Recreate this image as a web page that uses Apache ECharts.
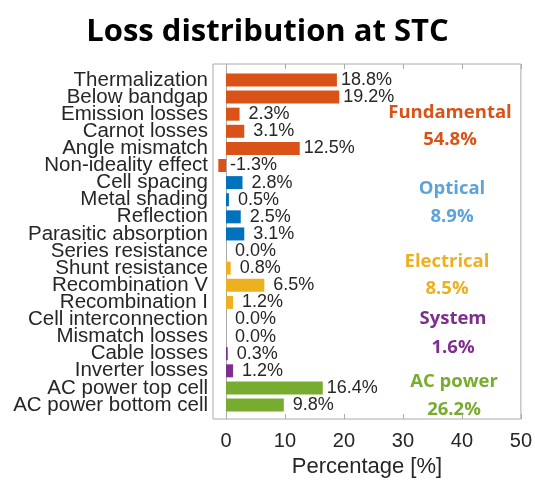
<!DOCTYPE html>
<html>
<head>
<meta charset="utf-8">
<script src="https://cdn.jsdelivr.net/npm/echarts@6/dist/echarts.min.js"></script>
<style>
  html, body { margin: 0; padding: 0; background: #fff; }
  #chart { width: 535px; height: 483px; }
</style>
</head>
<body>
<div id="chart"></div>
<script>
// loss items, top to bottom
const categories = [
  'Thermalization', 'Below bandgap', 'Emission losses', 'Carnot losses',
  'Angle mismatch', 'Non-ideality effect', 'Cell spacing', 'Metal shading',
  'Reflection', 'Parasitic absorption', 'Series resistance', 'Shunt resistance',
  'Recombination V', 'Recombination I', 'Cell interconnection', 'Mismatch losses',
  'Cable losses', 'Inverter losses', 'AC power top cell', 'AC power bottom cell'
];
const values = [18.8, 19.2, 2.3, 3.1, 12.5, -1.3, 2.8, 0.5, 2.5, 3.1,
  0.0, 0.8, 6.5, 1.2, 0.0, 0.0, 0.3, 1.2, 16.4, 9.8];
// group index of each item
const groupOf = [0, 0, 0, 0, 0, 0, 1, 1, 1, 1, 2, 2, 2, 2, 3, 3, 3, 3, 4, 4];
const groupNames = ['Fundamental', 'Optical', 'Electrical', 'System', 'AC power'];
const groupTotals = [54.8, 8.9, 8.5, 1.6, 26.2];
const xTicks = [0, 10, 20, 30, 40, 50];

const barColors = ['#D95319', '#0072BD', '#EDB120', '#7E2F8E', '#77AC30'];
const textColors = ['#D95319', '#5BA3DA', '#EDB120', '#7E2F8E', '#77AC30'];
// label centres (px) for the group texts on the right
const groupPos = [[450, 113, 140], [452, 189, 217], [447, 262, 289], [453, 319, 348], [454, 382, 410]];

const frameColor = '#aaaaaa';
const txt = '#262626';
const xMin = -2.2, xMax = 50;

const chart = echarts.init(document.getElementById('chart'));

const graphics = [];
groupNames.forEach((g, i) => {
  const p = groupPos[i];
  graphics.push({
    type: 'text', x: p[0], y: p[1],
    style: { text: g, fill: textColors[i], font: 'bold 18.5px "Open Sans"', align: 'center', verticalAlign: 'middle' }
  });
  graphics.push({
    type: 'text', x: p[0], y: p[2],
    style: { text: groupTotals[i].toFixed(1) + '%', fill: textColors[i], font: 'bold 18.5px "Open Sans"', align: 'center', verticalAlign: 'middle' }
  });
});

const option = {
  animation: false,
  backgroundColor: '#fff',
  title: {
    text: 'Loss distribution at STC',
    left: 'center', top: 12,
    textStyle: { fontFamily: 'Open Sans', fontWeight: 'bold', fontSize: 31, color: '#000' }
  },
  grid: [
    // frame
    { left: 213, right: 14, top: 64, bottom: 62, show: true, borderColor: frameColor, borderWidth: 1, backgroundColor: '#fff' },
    // bars
    { left: 213, right: 14, top: 71.4, bottom: 69.4 }
  ],
  xAxis: [
    {
      gridIndex: 0, type: 'value', min: xMin, max: xMax, position: 'bottom',
      name: 'Percentage [%]', nameLocation: 'middle', nameGap: 37,
      nameTextStyle: { fontFamily: 'Liberation Sans', fontSize: 22, color: txt },
      axisLine: { show: false, onZero: false },
      axisTick: { inside: true, length: 5, customValues: xTicks, lineStyle: { color: frameColor } },
      axisLabel: { customValues: xTicks, margin: 12, fontFamily: 'Liberation Sans', fontSize: 20, color: txt },
      splitLine: { show: false }
    },
    {
      gridIndex: 0, type: 'value', min: xMin, max: xMax, position: 'top',
      axisLine: { show: false, onZero: false },
      axisTick: { inside: true, length: 5, customValues: xTicks, lineStyle: { color: frameColor } },
      axisLabel: { show: false },
      splitLine: { show: false }
    },
    {
      gridIndex: 1, type: 'value', min: xMin, max: xMax, show: false
    }
  ],
  yAxis: [
    {
      // zero line across the whole frame
      gridIndex: 0, type: 'value', min: 0, max: 1,
      axisLine: { show: true, onZero: true, lineStyle: { color: frameColor } },
      axisTick: { show: false }, axisLabel: { show: false }, splitLine: { show: false }
    },
    {
      gridIndex: 1, type: 'category', data: categories, inverse: true, position: 'left',
      axisLine: { show: false },
      axisTick: { inside: true, length: 5, alignWithLabel: true, interval: 0, lineStyle: { color: frameColor } },
      axisLabel: { interval: 0, margin: 5, fontFamily: 'Liberation Sans', fontSize: 20.5, color: txt }
    },
    {
      gridIndex: 1, type: 'category', data: categories, inverse: true, position: 'right',
      axisLine: { show: false },
      axisTick: { inside: true, length: 5, alignWithLabel: true, interval: 0, lineStyle: { color: frameColor } },
      axisLabel: { show: false }
    }
  ],
  series: [{
    type: 'bar',
    xAxisIndex: 2, yAxisIndex: 1,
    barWidth: 13,
    data: values.map((v, i) => ({ value: v, itemStyle: { color: barColors[groupOf[i]] } })),
    label: {
      show: true, position: 'right', distance: 4,
      fontFamily: 'Liberation Sans', fontSize: 18, color: txt,
      // mimic %4.1f padding
      formatter: p => (Math.abs(p.value) < 10 && p.value >= 0 ? ' ' : '') + p.value.toFixed(1) + '%'
    }
  }],
  graphic: graphics
};

chart.setOption(option);
</script>
</body>
</html>
